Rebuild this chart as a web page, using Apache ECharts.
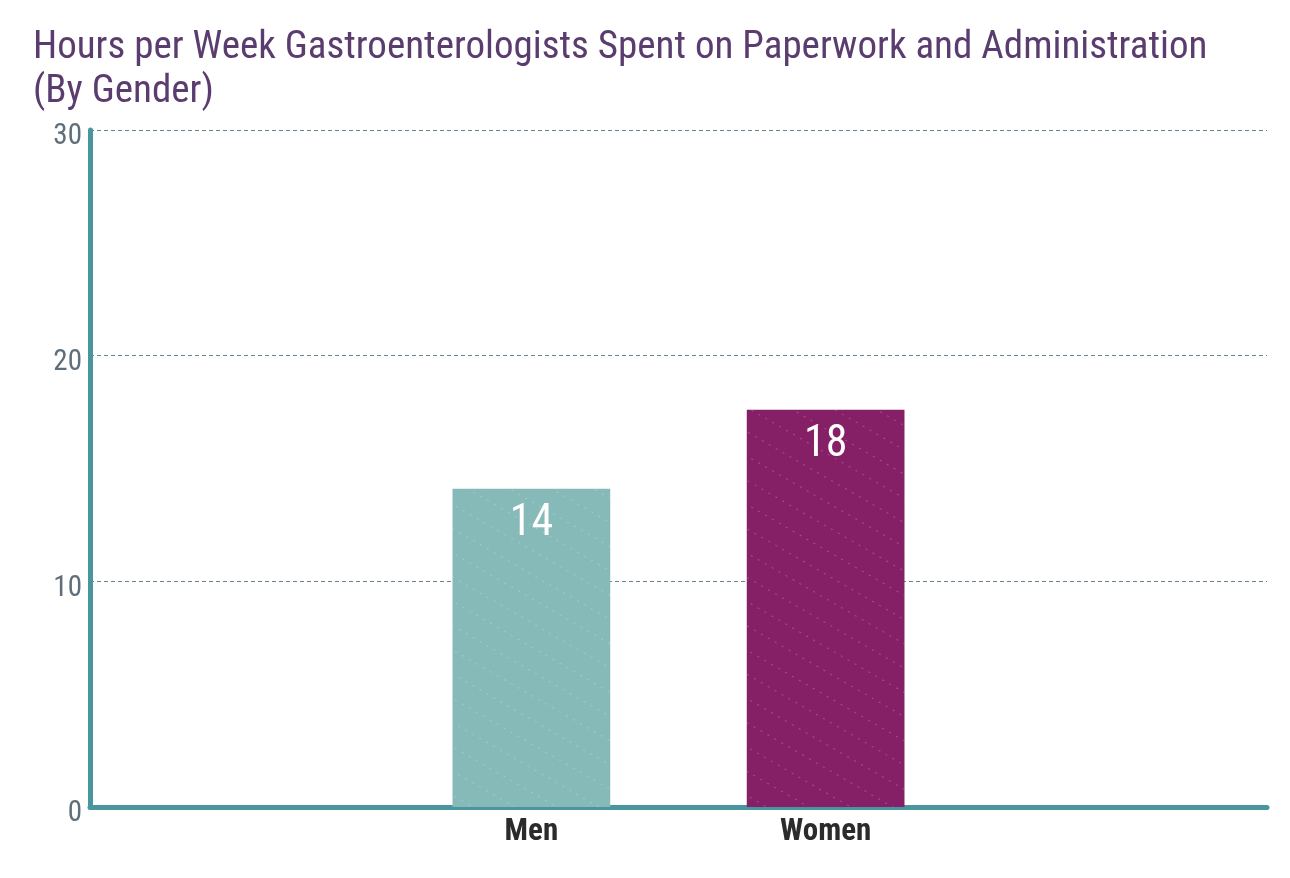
<!DOCTYPE html>
<html>
<head>
<meta charset="utf-8">
<script src="https://cdn.jsdelivr.net/npm/echarts@6/dist/echarts.min.js"></script>
<style>
  html, body { margin: 0; padding: 0; background: #ffffff; }
  #chart { width: 1290px; height: 878px; }
</style>
</head>
<body>
<div id="chart"></div>
<script>
const titleText = "Hours per Week Gastroenterologists Spent on Paperwork and Administration\n(By Gender)";
const categories = ["", "Men", "Women", ""];
const hours = [null, 14.1, 17.6, null];
const barColors = ["#86bab8", "#86bab8", "#862066", "#862066"];
const yTicks = [0, 10, 20, 30];

const fontStack = "'Roboto Condensed', 'Liberation Sans Narrow', 'DejaVu Sans Condensed', Roboto, sans-serif";

const chart = echarts.init(document.getElementById("chart"));

// faint dotted diagonal texture seen on the bars
const decal = {
  symbol: "rect",
  symbolSize: 1,
  color: "rgba(255,255,255,0.22)",
  dashArrayX: [[2, 6]],
  dashArrayY: [1, 20],
  rotation: Math.PI / 6,
};

chart.setOption({
  animation: false,
  title: {
    text: titleText,
    left: 28,
    top: 21,
    textStyle: {
      fontFamily: fontStack,
      fontSize: 39,
      fontWeight: "normal",
      color: "#5a3d6e",
      lineHeight: 44,
    },
  },
  grid: {
    left: 90,
    right: 23,
    top: 130,
    bottom: 71,
  },
  xAxis: {
    type: "category",
    data: categories,
    axisTick: { show: false },
    axisLine: { lineStyle: { color: "#4a969f", width: 5, cap: "round" } },
    axisLabel: {
      fontFamily: fontStack,
      fontSize: 31,
      fontWeight: "bold",
      color: "#2b2b2b",
      margin: 10,
    },
  },
  yAxis: {
    type: "value",
    min: yTicks[0],
    max: yTicks[yTicks.length - 1],
    interval: 10,
    axisLine: { show: true, lineStyle: { color: "#4a969f", width: 5, cap: "round" } },
    axisTick: { show: false },
    axisLabel: {
      fontFamily: fontStack,
      fontSize: 29,
      color: "#5f6e7a",
      margin: 8,
      verticalAlign: "top",
      lineHeight: 14,
    },
    splitLine: {
      show: true,
      lineStyle: { color: "#6a8491", type: [4, 3], width: 1 },
    },
  },
  series: [
    {
      type: "bar",
      data: hours.map((v, i) => ({
        value: v,
        itemStyle: { color: barColors[i], decal: decal },
      })),
      barWidth: "53.6%",
      label: {
        show: true,
        position: "insideTop",
        distance: 13,
        fontFamily: fontStack,
        fontSize: 44,
        color: "#ffffff",
        formatter: (p) => Math.round(p.value),
      },
      z: 1,
    },
  ],
});
</script>
</body>
</html>
